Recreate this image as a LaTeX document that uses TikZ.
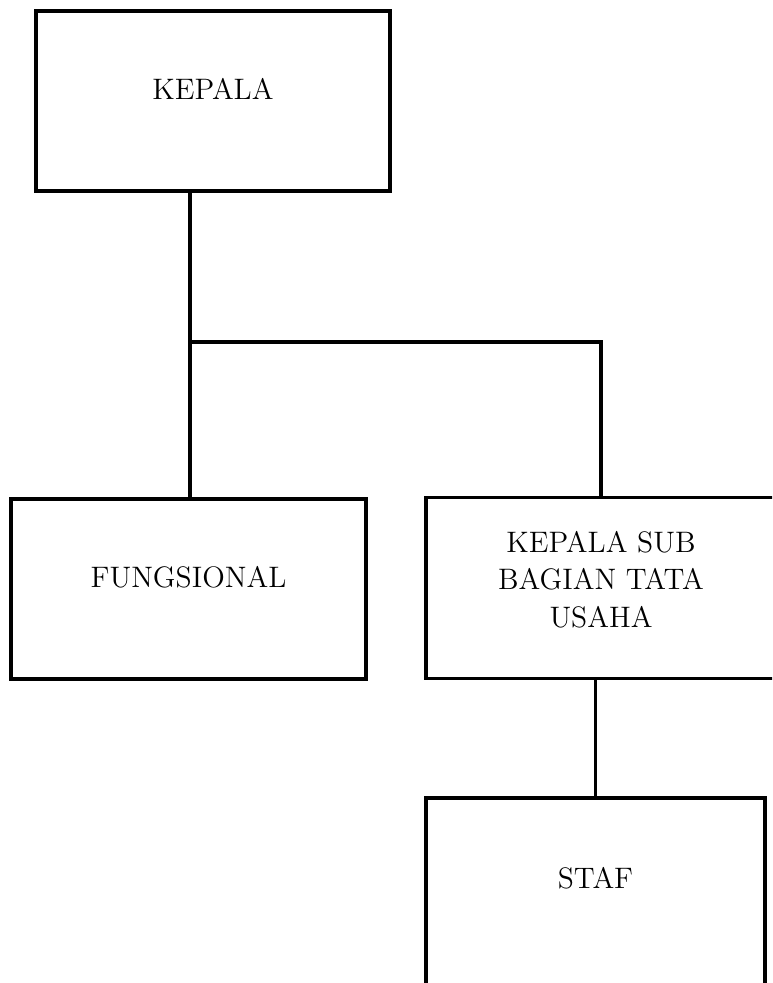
\documentclass[tikz,border=0pt]{standalone}
\usetikzlibrary{positioning}
\begin{document}
\begin{tikzpicture}
[x=0.5pt,y=-0.5pt,
  boxDecorate/.style={shape=rectangle,draw,line width=1.7pt,inner sep=0pt},%
  textDecorate/.style={align=center,font=\fontsize{14.8}{18.75}\selectfont},%
  lineDecorate/.style={-,line width=1.9pt}]
\useasboundingbox (0,0) rectangle (772,983);
\clip (0,0) rectangle (772,983);
%% boxes
\foreach \nodename/\x/\y/\w/\h in {
  kepala/213/101/177/90, fungsional/188.5/589/177.5/90,
  kasubbag/601/588/175/90.5, staf/595.5/893/169.5/95}
{
  \node (\nodename) at (\x,\y) [boxDecorate,minimum width=\w pt,minimum height=\h pt] {};
}
%% texts
\node (kepalatext) at ([yshift=6pt]kepala.center) [textDecorate] {KEPALA};
\node (fungsionaltext) at ([yshift=6pt]fungsional.center) [textDecorate] {FUNGSIONAL};
\node (kasubbagtext) at ([yshift=4.3pt]kasubbag.center) [textDecorate] {KEPALA SUB\\BAGIAN TATA\\USAHA};
\node (staftext) at ([yshift=7.5pt]staf.center) [textDecorate] {STAF};
%% lines
\coordinate (split) at (190,342);
\draw[lineDecorate] (kepala.south -| split) -- (split |- fungsional.north);
\draw[lineDecorate] (split) -| (kasubbag.north);
\draw[lineDecorate] (kasubbag.south -| staf.north) -- (staf.north);
\end{tikzpicture}
\end{document}
